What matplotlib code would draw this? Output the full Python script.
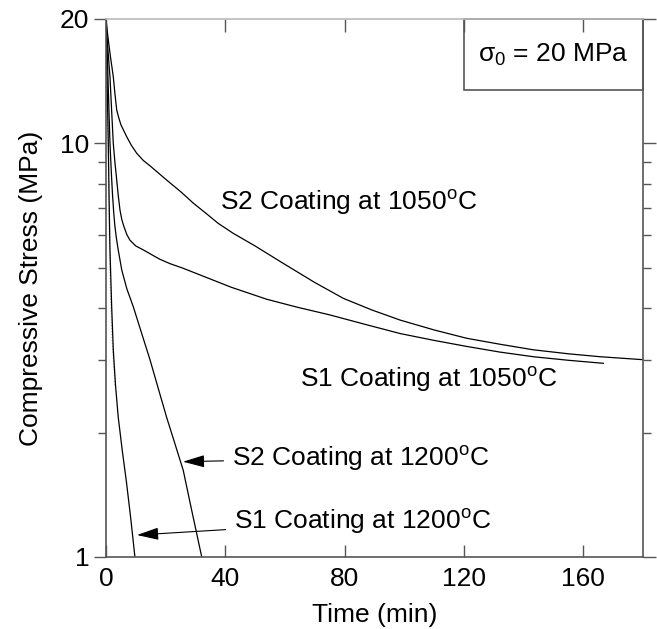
import numpy as np
import matplotlib
matplotlib.use('Agg')
import matplotlib.pyplot as plt
from matplotlib.patches import Rectangle
from matplotlib.ticker import FixedLocator, FixedFormatter, NullFormatter

plt.rcParams.update({
    'font.family': ['Liberation Sans', 'DejaVu Sans'],
    'font.size': 19,
    'mathtext.fontset': 'custom',
    'mathtext.rm': 'Liberation Sans',
    'mathtext.it': 'Liberation Sans:italic',
})

# ---------------------------------------------------------------------------
# data (time in min, stress in MPa)
# ---------------------------------------------------------------------------
t_s2_1050 = [0, 0.5, 1, 1.5, 2, 2.45, 3, 3.6, 4.2, 5, 6.9, 8.5, 10.3, 12.5,
             15, 20.3, 25, 29.3, 33.5, 37.6, 42.7, 50, 59.4, 70, 79.6, 89,
             98.6, 110, 120.9, 132, 143.2, 155, 165.6, 180]
s_s2_1050 = [20, 18.5, 17.3, 16.2, 15.3, 14.5, 13.2, 12.05, 11.6, 11.1, 10.4,
             9.9, 9.47, 9.1, 8.8, 8.16, 7.65, 7.17, 6.78, 6.41, 6.06, 5.65,
             5.13, 4.61, 4.22, 3.96, 3.74, 3.54, 3.38, 3.27, 3.17, 3.10,
             3.05, 3.0]

t_s1_1050 = [0, 0.5, 1.0, 1.34, 1.9, 2.45, 3.0, 3.5, 4.1, 4.7, 5.3, 6, 7, 8,
             10, 12.5, 15, 18, 21.5, 25.9, 31.5, 42, 53.9, 64, 75, 87, 98.6,
             110, 120.9, 132, 143.2, 155, 166.7]
s_s1_1050 = [20, 17.5, 15.6, 14.5, 12, 10, 9.0, 8.3, 7.5, 6.9, 6.55, 6.3,
             6.02, 5.84, 5.65, 5.53, 5.4, 5.25, 5.12, 4.99, 4.81, 4.49, 4.2,
             4.02, 3.85, 3.65, 3.47, 3.34, 3.23, 3.13, 3.05, 2.99, 2.94]

t_s2_1200 = [0, 0.3, 0.6, 1.0, 1.34, 1.8, 2.2, 2.6, 3.0, 3.5, 4.1, 5.3, 7,
             9.15, 11.5, 14.75, 17.5, 20.3, 23, 25.9, 29, 32.1]
s_s2_1200 = [20, 17.5, 15, 12, 10, 8.5, 7.5, 6.8, 6.3, 5.9, 5.53, 4.94, 4.45,
             4.03, 3.56, 3.0, 2.56, 2.18, 1.89, 1.62, 1.27, 1.0]

t_s1_1200 = [0, 0.3, 0.78, 1.05, 1.34, 1.9, 2.45, 3.2, 4.1, 5.5, 6.9, 8.3,
             9.7]
s_s1_1200 = [20, 15, 10, 7.3, 5.53, 4.05, 3.17, 2.6, 2.18, 1.8, 1.51, 1.24,
             1.0]

t_s1_1200_dot = [0, 0.3, 0.7, 1.0, 1.3, 2.0, 3.0]
s_s1_1200_dot = [20, 15, 10, 7, 4.9, 3.4, 2.6]

x_ticks = [0, 40, 80, 120, 160]
y_major = [1, 10, 20]
y_major_labels = ['1', '10', '20']
y_minor = [2, 3, 4, 5, 6, 7, 8, 9]

spine_col = '#555555'

# ---------------------------------------------------------------------------
# plot
# ---------------------------------------------------------------------------
fig = plt.figure(figsize=(6.57, 6.29), dpi=100)
ax = fig.add_axes([0.1613, 0.1145, 0.8174, 0.8553])

ax.plot(t_s1_1200_dot, s_s1_1200_dot, color='#aaaaaa', lw=0.8, ls=':')
ax.plot(t_s2_1050, s_s2_1050, color='black', lw=0.9)
ax.plot(t_s1_1050, s_s1_1050, color='black', lw=0.9)
ax.plot(t_s2_1200, s_s2_1200, color='black', lw=0.9)
ax.plot(t_s1_1200, s_s1_1200, color='black', lw=0.9)

ax.set_yscale('log')
ax.set_xlim(0, 180)
ax.set_ylim(1, 20)

ax.xaxis.set_major_locator(FixedLocator(x_ticks))
ax.yaxis.set_major_locator(FixedLocator(y_major))
ax.yaxis.set_minor_locator(FixedLocator(y_minor))
ax.yaxis.set_major_formatter(FixedFormatter(y_major_labels))
ax.yaxis.set_minor_formatter(NullFormatter())

ax.tick_params(axis='x', which='both', direction='in', top=True, length=9,
               width=1, color=spine_col, pad=7)
ax.tick_params(axis='y', which='major', direction='out', right=True, length=9,
               width=1, color=spine_col, pad=3)
ax.tick_params(axis='y', which='minor', direction='out', right=True, length=6,
               width=1, color=spine_col)

for side in ['left', 'right', 'bottom']:
    ax.spines[side].set_color(spine_col)
    ax.spines[side].set_linewidth(1.2)
ax.spines['top'].set_color('#bbbbbb')
ax.spines['top'].set_linewidth(1.2)

ax.set_xlabel('Time (min)')
ax.set_ylabel('Compressive Stress (MPa)')
ax.xaxis.set_label_coords(0.5, -0.085)
ax.yaxis.set_label_coords(-0.117, 0.5)

# sigma_0 box
ax.add_patch(Rectangle((0.667, 0.868), 0.333, 0.132, transform=ax.transAxes,
                       fill=False, edgecolor=spine_col, lw=1.2, clip_on=False))
ax.text(0.833, 0.934, 'σ$_0$ = 20 MPa', transform=ax.transAxes,
        ha='center', va='center', fontsize=19)

ax.text(38.2, 7.18, 'S2 Coating at 1050$^\\mathrm{o}$C', ha='left', va='center')
ax.text(65, 2.68, 'S1 Coating at 1050$^\\mathrm{o}$C', ha='left', va='center')

arrow = dict(arrowstyle='-|>,head_length=0.7,head_width=0.2', color='black',
             lw=0.8, shrinkA=4, shrinkB=0)
ax.annotate('S2 Coating at 1200$^\\mathrm{o}$C', xy=(25.8, 1.70),
            xytext=(42.2, 1.735), ha='left', va='center', arrowprops=arrow)
ax.annotate('S1 Coating at 1200$^\\mathrm{o}$C', xy=(10.4, 1.13),
            xytext=(42.9, 1.22), ha='left', va='center', arrowprops=arrow)

fig.savefig('out.png', dpi=100)
